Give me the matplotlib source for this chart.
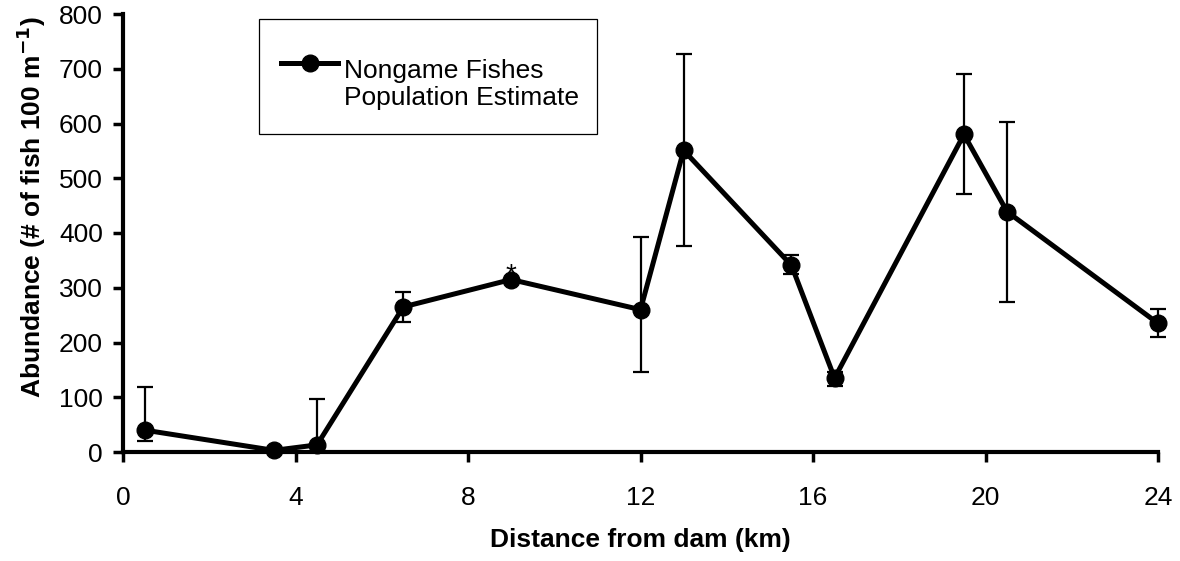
import numpy as np
import matplotlib
matplotlib.use("Agg")
import matplotlib.pyplot as plt
from matplotlib.lines import Line2D
from matplotlib.patches import Rectangle

plt.rcParams["font.family"] = ["Liberation Sans", "DejaVu Sans"]

# sampling sites along the river, km below the dam
dist_km = [0.5, 3.5, 4.5, 6.5, 9, 12, 13, 15.5, 16.5, 19.5, 20.5, 24]
# population estimate (fish per 100 m) with lower / upper limits
abundance = [40, 3, 13, 265, 315, 260, 551, 341, 135, 580, 439, 235]
ci_low = [21, 3, 0, 238, 315, 146, 376, 325, 121, 471, 274, 210]
ci_high = [119, 3, 96, 292, 315, 393, 727, 360, 146, 690, 603, 262]
# site flagged with an asterisk
flag_km = 9

x_ticks = [0, 4, 8, 12, 16, 20, 24]
y_ticks = list(range(0, 801, 100))

est = np.array(abundance)
yerr = [est - np.array(ci_low), np.array(ci_high) - est]

fig = plt.figure(figsize=(11.8, 5.61), dpi=100)
ax = fig.add_axes([123 / 1180, 1 - 452 / 561, 1035 / 1180, 438 / 561])

eb = ax.errorbar(dist_km, abundance, yerr=yerr, color="black", lw=3.6,
                 marker="o", ms=12, elinewidth=1.6, capsize=5.8, capthick=1.6,
                 clip_on=False, zorder=3)
for art in list(eb.lines[1]) + list(eb.lines[2]):
    art.set_clip_on(False)

i = dist_km.index(flag_km)
ax.annotate("*", xy=(flag_km, abundance[i] - 5), ha="center", va="baseline",
            fontsize=20, zorder=5)

ax.set_xlim(0, 24)
ax.set_ylim(0, 800)
ax.set_xticks(x_ticks)
ax.set_yticks(y_ticks)

for side in ["top", "right"]:
    ax.spines[side].set_visible(False)
for side in ["left", "bottom"]:
    ax.spines[side].set_linewidth(3)
ax.tick_params(axis="both", direction="out", length=7.5, width=2.5,
               labelsize=19)
ax.tick_params(axis="x", pad=17)
ax.tick_params(axis="y", pad=7)

ax.set_xlabel("Distance from dam (km)", fontsize=19, fontweight="bold",
              labelpad=13)
ax.set_ylabel("Abundance (# of fish 100 m$^{\\mathbf{-1}}$)", fontsize=19,
              fontweight="bold")
ax.yaxis.set_label_coords(-0.0729, 0.558)

# legend box
ax.add_patch(Rectangle((0.1314, 0.726), 0.3266, 0.2626, transform=ax.transAxes,
                       fill=False, edgecolor="black", lw=0.9, zorder=4))
handles = [Line2D([], [], color="black", lw=3.6, marker="o", ms=12),
           Line2D([], [], linestyle="none")]
leg = ax.legend(handles, ["Nongame Fishes", "Population Estimate"],
                loc="upper left", bbox_to_anchor=(0.1527, 0.898),
                borderaxespad=0, borderpad=0, frameon=False, fontsize=19,
                handlelength=2.16, handletextpad=0.23, labelspacing=0.13)
# lift the line sample a little so it sits level with the upper half of the text
h = leg.legend_handles[0]
h.set_ydata(np.asarray(h.get_ydata()) + 4)

fig.savefig("out.png", dpi=100)
